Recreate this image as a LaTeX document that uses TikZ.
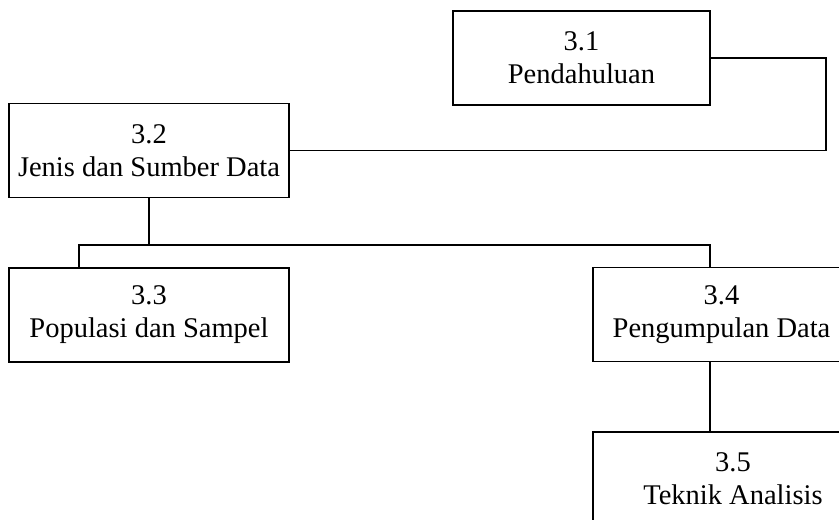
\documentclass[tikz,border=0pt]{standalone}
\usepackage{fontspec}
\setmainfont{Liberation Serif}
\usepackage{xcolor}

\begin{document}
\begin{tikzpicture}[x=1pt, y=-1pt, line width=1.3pt,
    bab/.style={draw=black, rectangle, align=center, font=\fontsize{28.5}{33}\selectfont, minimum height=94pt}]
            \useasboundingbox (0,0) rectangle (839,520);
            \clip (0,0) rectangle (839,520);
            \node[bab, minimum width=257pt](p31) at (581.5,58){3.1\\Pendahuluan};
            \node[bab, minimum width=280pt](p32) at (149,150.5){3.2\\Jenis dan Sumber Data};
            \node[bab, minimum width=280pt](p33) at (149,315){3.3\\Populasi dan Sampel};
            \node[bab, minimum width=257pt](p34) at (721.5,314.5){3.4\\Pengumpulan Data};
            \node[bab, minimum width=280pt](p35) at (733,479){3.5\\Teknik Analisis};
                % titik sambung
            \coordinate (belok) at (826,58);
            \coordinate (cabang) at (149,245);
            \coordinate (turun33) at (79,268);
            \coordinate (turun34) at (710,268);
            \draw (p31.east) -- (belok) |- (p32.east);
            \draw (p32.south) -- (cabang);
            \draw (turun33 |- p33.north) |- (cabang) -| (turun34 |- p34.north);
            \draw (turun34 |- p34.south) -- (turun34 |- p35.north);
        \end{tikzpicture}
\end{document}
